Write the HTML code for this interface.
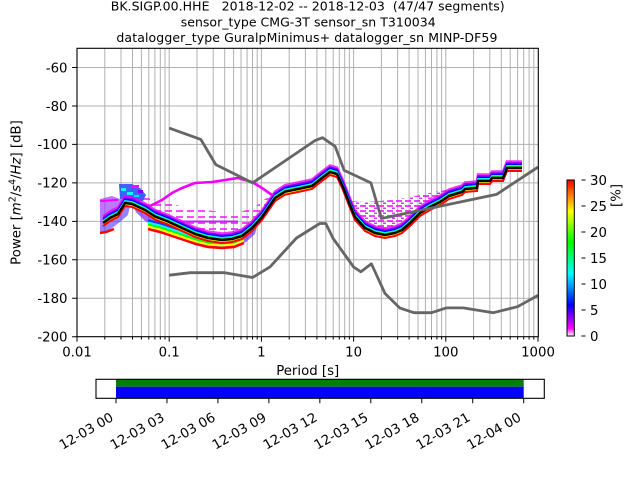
<!DOCTYPE html>
<html><head><meta charset="utf-8"><style>
html,body{margin:0;padding:0;background:#fff;}
svg{display:block;}
text{font-family:"DejaVu Sans","Liberation Sans",sans-serif;fill:#000;}
</style></head><body>
<svg width="640" height="480" viewBox="0 0 640 480" xmlns="http://www.w3.org/2000/svg">
<defs>
<clipPath id="ax"><rect x="77" y="48.3" width="461.3" height="288.4"/></clipPath>
<linearGradient id="cb" x1="0" y1="0" x2="0" y2="1">
<stop offset="0" stop-color="#ff0000"/>
<stop offset="0.2" stop-color="#ffff00"/>
<stop offset="0.4" stop-color="#00ff00"/>
<stop offset="0.6" stop-color="#00ffff"/>
<stop offset="0.8" stop-color="#0000ff"/>
<stop offset="0.95" stop-color="#ff00ff"/>
<stop offset="1" stop-color="#ffffff"/>
</linearGradient>
<pattern id="st" x="0" y="0" width="9" height="5" patternUnits="userSpaceOnUse">
<rect x="0" y="0" width="6" height="2" fill="#f000ff"/>
<rect x="5" y="2.5" width="3" height="1.5" fill="#b000ff"/>
</pattern>
<pattern id="st2" x="0" y="0" width="11" height="6" patternUnits="userSpaceOnUse">
<rect x="0" y="0" width="7" height="2" fill="#f000ff"/>
</pattern>
<polyline id="c" fill="none" points="103,223 110,218 118,214 125,203 132,204 145,210 155,216.5 168,221.5 182,228 195,234 208,238 222,240 232,239 242,236 252,228 262,217 275,198 285,191.7 298,189 312,186 322,178 330,172 337,174 343,187 350,205 355,217 365,228 375,233 385,235 395,233 402,230 410,223 420,213 430,207 440,202 449,196 462,192 465,189 477,188 478,181 490,181 492,178 503,178 507,168 522,168"/>
<polyline id="b" fill="none" points="148,228 160,231 172,235 184,239 196,243 208,246 222,247 234,246 244,242"/>
</defs>

<!-- title -->
<text x="307.7" y="10.5" font-size="12.5" text-anchor="middle" textLength="394" lengthAdjust="spacing" style="white-space:pre">BK.SIGP.00.HHE   2018-12-02 -- 2018-12-03  (47/47 segments)</text>
<text x="308.2" y="26.5" font-size="12.5" text-anchor="middle" textLength="255" lengthAdjust="spacing">sensor_type CMG-3T sensor_sn T310034</text>
<text x="306.9" y="42" font-size="12.5" text-anchor="middle" textLength="381" lengthAdjust="spacing">datalogger_type GuralpMinimus+ datalogger_sn MINP-DF59</text>

<!-- grid -->
<g stroke="#b0b0b0" stroke-width="1" fill="none">
<path d="M104.8 48.3V336.7M121 48.3V336.7M132.5 48.3V336.7M141.4 48.3V336.7M148.8 48.3V336.7M154.9 48.3V336.7M160.3 48.3V336.7M165 48.3V336.7M169.2 48.3V336.7M197 48.3V336.7M213.2 48.3V336.7M224.7 48.3V336.7M233.6 48.3V336.7M241 48.3V336.7M247.1 48.3V336.7M252.5 48.3V336.7M257.2 48.3V336.7M261.4 48.3V336.7M289.2 48.3V336.7M305.4 48.3V336.7M316.9 48.3V336.7M325.8 48.3V336.7M333.2 48.3V336.7M339.3 48.3V336.7M344.7 48.3V336.7M349.4 48.3V336.7M353.6 48.3V336.7M381.4 48.3V336.7M397.6 48.3V336.7M409.1 48.3V336.7M418 48.3V336.7M425.4 48.3V336.7M431.5 48.3V336.7M436.9 48.3V336.7M441.6 48.3V336.7M445.8 48.3V336.7M473.6 48.3V336.7M489.8 48.3V336.7M501.3 48.3V336.7M510.2 48.3V336.7M517.6 48.3V336.7M523.7 48.3V336.7M529.1 48.3V336.7M533.8 48.3V336.7"/>
<path d="M77 67.5H538.3M77 106H538.3M77 144.4H538.3M77 182.9H538.3M77 221.4H538.3M77 259.8H538.3M77 298.3H538.3"/>
</g>

<g clip-path="url(#ax)">
<!-- left spread -->
<polygon fill="url(#st2)" opacity="0.7" points="128,198 140,196 160,201 180,206 200,209 220,212 240,212 255,207 265,199 272,194 275,198 262,217 252,228 242,236 232,239 222,240 208,238 195,234 182,228 168,221.5 155,216.5 145,210 132,204"/>
<polygon fill="#6a2cff" opacity="0.7" points="132,204 145,210 155,216.5 168,221.5 182,228 195,234 208,238 222,240 232,239 242,236 252,228 258,222 255,234 246,242 236,246 222,248 208,247 195,243 182,237 168,231 155,227 145,221 136,212"/>
<use href="#b" stroke="#2030ff" stroke-width="2.5" transform="translate(0,-7.5)"/>
<use href="#b" stroke="#00ffff" stroke-width="2" transform="translate(0,-5.5)"/>
<use href="#b" stroke="#00ff00" stroke-width="2" transform="translate(0,-3.5)"/>
<use href="#b" stroke="#ffff00" stroke-width="2" transform="translate(0,-1.5)"/>
<use href="#b" stroke="#ff0000" stroke-width="2.5" transform="translate(0,1)"/>
<polygon fill="#9a30ff" opacity="0.65" points="100,199 112,196 120,199 124,203 118,212 110,218 103,223 100,226"/>
<polygon fill="#5030ff" opacity="0.6" points="100,226 103,223 110,218 118,214 125,203 130,206 128,215 120,222 112,228 104,233 100,234"/>
<polyline fill="none" stroke="#ff0000" stroke-width="2.5" points="100,233 106,232 114,229"/>
<polyline fill="none" stroke="#f000ff" stroke-width="2" points="100,201 118,200"/>
<polygon fill="#2a50ff" opacity="0.9" points="119,184 132,184 140,188 146,195 143,201 130,201 120,199"/>
<rect x="121" y="188" width="5" height="3" fill="#00ffff"/>
<rect x="127" y="192" width="6" height="3" fill="#00ffff"/>
<rect x="134" y="195" width="5" height="2" fill="#00e0ff"/>
<rect x="131" y="185" width="8" height="2" fill="#ff00ff"/>
<rect x="138" y="190" width="5" height="3" fill="#8000ff"/>
<polyline fill="none" stroke="#f000ff" stroke-width="2.6" points="148,207 162,200 172,193 182,188 195,183 212,182 225,180 238,178 252,182 262,188 272,195"/>
<polyline fill="none" stroke="#c020ff" stroke-width="2" points="172,221.5 238,221.5"/>
<!-- right spread -->
<polygon fill="url(#st)" opacity="0.75" points="349,201 365,202 380,201 400,199 420,195 440,191 456,188 458,193 449,196 440,202 430,207 420,213 410,223 402,230 395,233 385,235 375,233 365,228 355,217"/>
<!-- main band -->
<use href="#c" stroke="#f000ff" stroke-width="2.5" opacity="0.8" transform="translate(0,-6.5)"/>
<use href="#c" stroke="#8000ff" stroke-width="2" transform="translate(0,-4.8)"/>
<use href="#c" stroke="#0000ff" stroke-width="1.8" transform="translate(0,-3.4)"/>
<use href="#c" stroke="#00ffff" stroke-width="1.5" transform="translate(0,-2.2)"/>
<use href="#c" stroke="#00ff00" stroke-width="1.5" transform="translate(0,-1.2)"/>
<use href="#c" stroke="#ffff00" stroke-width="1.5" transform="translate(0,1.6)"/>
<use href="#c" stroke="#ff0000" stroke-width="2" transform="translate(0,3)"/>
<use href="#c" stroke="#000000" stroke-width="2.5" stroke-linejoin="round"/>
<!-- noise models -->
<polyline fill="none" stroke="#666666" stroke-width="2.8" stroke-linejoin="round" points="169.2,128.1 200.8,139.4 215.8,164.6 252.5,182.9 314.9,140.6 322.5,137.7 335.1,146.4 344.2,170.4 370.9,182.9 381.4,218.5 496.5,194.4 538,167.1"/>
<polyline fill="none" stroke="#666666" stroke-width="2.8" stroke-linejoin="round" points="169.2,275.2 190.4,272.7 224.7,272.7 252.5,277.5 270,266.9 296.5,238 319.8,223.5 325.8,223.5 333.2,238.6 353.6,267 360.9,271.8 371.4,263.8 385,293.5 399.7,307.9 413.8,312.7 431.5,312.7 446.2,307.9 463.1,307.9 493.4,312.7 517.5,306.7 538,295.4"/>
</g>

<!-- axes frame -->
<rect x="77" y="48.3" width="461.3" height="288.4" fill="none" stroke="#000" stroke-width="1.1"/>
<!-- x ticks -->
<g stroke="#000" stroke-width="1">
<path d="M77 336.7v4.9M169.2 336.7v4.9M261.4 336.7v4.9M353.6 336.7v4.9M445.8 336.7v4.9M538 336.7v4.9"/>
<path d="M104.8 336.7v2.8M121 336.7v2.8M132.5 336.7v2.8M141.4 336.7v2.8M148.8 336.7v2.8M154.9 336.7v2.8M160.3 336.7v2.8M165 336.7v2.8M197 336.7v2.8M213.2 336.7v2.8M224.7 336.7v2.8M233.6 336.7v2.8M241 336.7v2.8M247.1 336.7v2.8M252.5 336.7v2.8M257.2 336.7v2.8M289.2 336.7v2.8M305.4 336.7v2.8M316.9 336.7v2.8M325.8 336.7v2.8M333.2 336.7v2.8M339.3 336.7v2.8M344.7 336.7v2.8M349.4 336.7v2.8M381.4 336.7v2.8M397.6 336.7v2.8M409.1 336.7v2.8M418 336.7v2.8M425.4 336.7v2.8M431.5 336.7v2.8M436.9 336.7v2.8M441.6 336.7v2.8M473.6 336.7v2.8M489.8 336.7v2.8M501.3 336.7v2.8M510.2 336.7v2.8M517.6 336.7v2.8M523.7 336.7v2.8M529.1 336.7v2.8M533.8 336.7v2.8"/>
<path d="M72.1 67.5H77M72.1 106H77M72.1 144.4H77M72.1 182.9H77M72.1 221.4H77M72.1 259.8H77M72.1 298.3H77M72.1 336.7H77"/>
</g>
<g font-size="13.3" text-anchor="middle">
<text x="77" y="356.5">0.01</text>
<text x="169.2" y="356.5">0.1</text>
<text x="261.4" y="356.5">1</text>
<text x="353.6" y="356.5">10</text>
<text x="445.8" y="356.5">100</text>
<text x="538" y="356.5">1000</text>
<text x="307.7" y="375">Period [s]</text>
</g>
<g font-size="13.3" text-anchor="end">
<text x="67.5" y="72.3">-60</text>
<text x="67.5" y="110.8">-80</text>
<text x="67.5" y="149.2">-100</text>
<text x="67.5" y="187.7">-120</text>
<text x="67.5" y="226.2">-140</text>
<text x="67.5" y="264.6">-160</text>
<text x="67.5" y="303.1">-180</text>
<text x="67.5" y="341.5">-200</text>
</g>
<text font-size="13.3" text-anchor="middle" transform="translate(20.5,192.5) rotate(-90)">Power [<tspan font-style="italic">m</tspan><tspan font-size="9.3" dy="-5">2</tspan><tspan dy="5">/</tspan><tspan font-style="italic">s</tspan><tspan font-size="9.3" dy="-5">4</tspan><tspan dy="5">/</tspan><tspan font-style="italic">Hz</tspan>] [dB]</text>

<!-- colorbar -->
<rect x="567" y="180" width="7.3" height="156" fill="url(#cb)" stroke="#000" stroke-width="1"/>
<g stroke="#000" stroke-width="1.1">
<path d="M581.5 180h4M581.5 206h4M581.5 232h4M581.5 258h4M581.5 284h4M581.5 310h4M581.5 336h4"/>
</g>
<g font-size="13.3">
<text x="590" y="184.8">30</text>
<text x="590" y="210.8">25</text>
<text x="590" y="236.8">20</text>
<text x="590" y="262.8">15</text>
<text x="590" y="288.8">10</text>
<text x="590" y="314.8">5</text>
<text x="590" y="340.8">0</text>
</g>
<text font-size="13.3" text-anchor="middle" transform="translate(620.5,195.5) rotate(-90)">[%]</text>

<!-- time bar -->
<rect x="116" y="379.3" width="407.7" height="7.4" fill="#008000"/>
<rect x="116" y="386.7" width="407.7" height="11.6" fill="#0000ff"/>
<rect x="96" y="379.3" width="448.3" height="19" fill="none" stroke="#000" stroke-width="1.1"/>
<g stroke="#000" stroke-width="1">
<path d="M116 398.3v4.9M166.96 398.3v4.9M217.92 398.3v4.9M268.88 398.3v4.9M319.84 398.3v4.9M370.8 398.3v4.9M421.76 398.3v4.9M472.72 398.3v4.9M523.68 398.3v4.9"/>
</g>
<g font-size="13.3" text-anchor="end">
<text transform="translate(114.4,420) rotate(-30)">12-03 00</text>
<text transform="translate(165.36,420) rotate(-30)">12-03 03</text>
<text transform="translate(216.32,420) rotate(-30)">12-03 06</text>
<text transform="translate(267.28,420) rotate(-30)">12-03 09</text>
<text transform="translate(318.24,420) rotate(-30)">12-03 12</text>
<text transform="translate(369.2,420) rotate(-30)">12-03 15</text>
<text transform="translate(420.16,420) rotate(-30)">12-03 18</text>
<text transform="translate(471.12,420) rotate(-30)">12-03 21</text>
<text transform="translate(522.08,420) rotate(-30)">12-04 00</text>
</g>
</svg>
</body></html>
